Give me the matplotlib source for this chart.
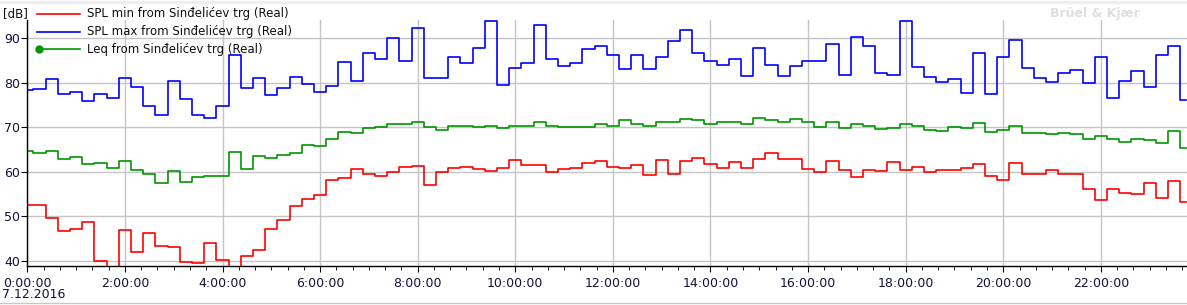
import numpy as np
import matplotlib.pyplot as plt
from matplotlib.lines import Line2D
from matplotlib.ticker import MultipleLocator, FuncFormatter

plt.rcParams['font.family'] = 'DejaVu Sans'

# 15-minute intervals over 7.12.2016, time in hours
hours = np.arange(96) * 0.25

spl_min = [52.6, 52.6, 49.6, 46.7, 47.1, 48.7, 39.9, 36.5, 46.9, 42.0,
           46.2, 43.3, 43.1, 39.7, 39.5, 44.0, 40.2, 37.5, 41.1, 42.5,
           47.1, 49.2, 52.3, 53.9, 54.8, 58.2, 58.6, 60.6, 59.5, 59.1,
           60.0, 61.1, 61.4, 57.1, 60.0, 60.9, 61.1, 60.7, 60.2, 60.9,
           62.7, 61.6, 61.6, 60.0, 60.7, 60.9, 62.0, 62.5, 61.1, 60.9,
           61.6, 59.3, 62.7, 59.5, 62.5, 63.2, 61.8, 60.9, 62.3, 60.9,
           62.9, 64.3, 62.9, 62.9, 60.7, 60.0, 62.5, 60.5, 58.9, 60.5,
           60.2, 62.3, 60.5, 61.1, 60.0, 60.5, 60.5, 60.9, 61.8, 59.1,
           58.2, 62.0, 59.5, 59.5, 60.5, 59.5, 59.5, 56.2, 53.7, 56.2,
           55.3, 55.0, 57.5, 54.1, 58.0, 53.2]

spl_max = [78.4, 78.5, 80.8, 77.4, 77.9, 75.9, 77.4, 76.5, 81.0, 79.0,
           74.7, 72.7, 80.3, 76.3, 72.7, 72.2, 74.7, 86.2, 78.8, 81.0,
           77.2, 78.8, 81.2, 79.7, 77.9, 79.2, 84.6, 80.3, 86.7, 85.3,
           90.0, 84.9, 92.2, 81.0, 81.0, 85.9, 84.4, 87.8, 93.9, 79.4,
           83.3, 84.4, 93.0, 85.3, 83.7, 84.4, 87.5, 88.2, 86.2, 83.0,
           86.2, 83.0, 85.7, 89.3, 91.8, 86.7, 84.8, 83.9, 85.3, 81.5,
           87.8, 83.9, 81.5, 83.7, 84.8, 84.8, 88.7, 81.7, 90.2, 88.2,
           82.2, 81.7, 93.9, 83.5, 81.2, 80.1, 80.8, 77.6, 86.6, 77.4,
           85.7, 89.6, 83.3, 81.0, 80.1, 82.2, 82.8, 79.9, 85.7, 76.5,
           80.4, 82.6, 79.0, 86.2, 88.2, 76.1]

leq = [64.7, 64.3, 64.7, 62.9, 63.4, 61.8, 62.0, 60.9, 62.5, 60.5,
       59.5, 57.5, 60.2, 57.7, 58.9, 59.1, 59.1, 64.5, 60.7, 63.6,
       63.2, 63.8, 64.3, 66.0, 65.7, 67.3, 69.0, 68.7, 69.8, 70.0,
       70.7, 70.7, 71.1, 70.0, 69.3, 70.4, 70.4, 70.0, 70.2, 69.8,
       70.2, 70.2, 71.1, 70.4, 70.0, 70.0, 70.0, 70.7, 70.4, 71.6,
       70.7, 70.2, 71.3, 71.1, 71.8, 71.6, 70.7, 71.3, 71.3, 70.7,
       72.0, 71.6, 71.1, 71.8, 71.1, 70.0, 71.1, 69.8, 70.7, 70.2,
       69.6, 69.8, 70.7, 70.4, 69.3, 69.1, 70.0, 69.8, 70.9, 68.9,
       69.3, 70.2, 68.7, 68.7, 68.4, 68.7, 68.4, 67.3, 68.0, 67.3,
       66.6, 67.3, 67.1, 66.4, 69.1, 65.3]

labels = ["SPL min from Sinđelićev trg (Real)",
          "SPL max from Sinđelićev trg (Real)",
          "Leq from Sinđelićev trg (Real)"]
colors = ["#ff0000", "#0000ff", "#009600"]

W, H = 1187, 305
fig = plt.figure(figsize=(W / 100, H / 100), dpi=100)
ax = fig.add_axes([27.3 / W, 1 - 266.3 / H, (W - 27.3) / W, (266.3 - 20) / H])

for series, c in zip([spl_min, spl_max, leq], colors):
    ax.step(hours, series, where='mid', color=c, lw=1.2)

ax.set_xlim(0, (W - 27.3) / 48.8)
ax.set_ylim(38.8, 94.1)
ax.set_yticks([40, 50, 60, 70, 80, 90])
ax.xaxis.set_major_locator(MultipleLocator(2))
ax.xaxis.set_minor_locator(MultipleLocator(1 / 3))
ax.xaxis.set_major_formatter(FuncFormatter(lambda v, p: f"{int(round(v))}:00:00"))

ax.grid(True, color="#c4c4c4", lw=1)
ax.set_axisbelow(True)
for s in ["top", "right"]:
    ax.spines[s].set_visible(False)
for s in ["left", "bottom"]:
    ax.spines[s].set_color("black")
    ax.spines[s].set_linewidth(1)
ax.tick_params(axis='x', which='major', length=4, pad=4, labelsize=9, colors='black', labelcolor='#10103a')
ax.tick_params(axis='x', which='minor', length=3)
ax.tick_params(axis='y', length=4, pad=1, labelsize=9, labelcolor='#10103a')

# legend drawn by hand in the top-left corner
for i, (lab, c) in enumerate(zip(labels, colors)):
    yy = 1 - (14 + i * 17.5) / H
    fig.add_artist(Line2D([37 / W, 80 / W], [yy, yy], color=c, lw=1.2))
    if i == 2:
        fig.add_artist(Line2D([39 / W], [yy], color=c, marker='o', ms=5))
    fig.text(87 / W, yy, lab, fontsize=8.5, va='center', ha='left', color='#101010')

fig.text(3 / W, 1 - 14 / H, "[dB]", fontsize=8.5, va='center', ha='left', color='#101010')
fig.text(2 / W, 1 - 295 / H, "7.12.2016", fontsize=9, va='center', ha='left', color='#10103a')
fig.text(1140 / W, 1 - 13 / H, "Brüel & Kjær", fontsize=9, fontweight='bold',
         va='center', ha='right', color='#dedede')

# window frame bits
fig.add_artist(Line2D([0, 1], [1 - 1.5 / H, 1 - 1.5 / H], color='#eeeeee', lw=2.5))
fig.add_artist(Line2D([0, 1], [1 - 303 / H, 1 - 303 / H], color='#c8c8c8', lw=1))

fig.savefig("out.png", dpi=100)
